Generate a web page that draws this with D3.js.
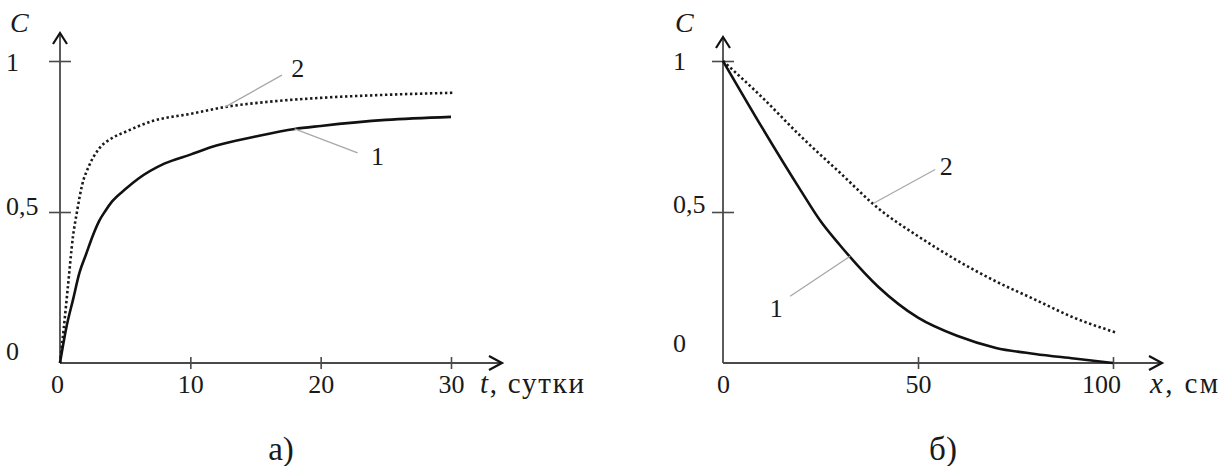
<!DOCTYPE html>
<html>
<head>
<meta charset="utf-8">
<script src="https://cdn.jsdelivr.net/npm/d3@7"></script>
<style>
  html, body { margin: 0; padding: 0; background: #fff; }
  svg { display: block; }
</style>
</head>
<body>
<svg id="chart" width="1229" height="466"></svg>
<script>
// Panel (а): concentration C versus time t, days
const tDays1 = [0, 0.5, 1, 1.5, 2, 2.5, 3, 3.5, 4, 5, 6, 8, 10, 12, 15, 18, 20, 25, 30];
const cTime1 = [0, 0.12, 0.21, 0.30, 0.36, 0.42, 0.47, 0.505, 0.535, 0.575, 0.61, 0.66, 0.69, 0.72, 0.75, 0.775, 0.785, 0.805, 0.815];
const tDays2 = [0, 0.3, 0.6, 1, 1.3, 1.7, 2.2, 3, 4, 5, 7, 10, 13, 16, 20, 25, 30.3];
const cTime2 = [0, 0.12, 0.25, 0.42, 0.50, 0.59, 0.65, 0.71, 0.745, 0.765, 0.80, 0.825, 0.85, 0.865, 0.878, 0.888, 0.895];

// Panel (б): concentration C versus depth x, cm
const xDepth1 = [0, 10, 20, 25, 30, 40, 50, 60, 70, 80, 90, 100];
const cDepth1 = [1, 0.78, 0.57, 0.47, 0.39, 0.25, 0.15, 0.09, 0.05, 0.03, 0.015, 0];
const xDepth2 = [0, 10, 20, 30, 40, 50, 60, 70, 80, 90, 101];
const cDepth2 = [1, 0.88, 0.75, 0.63, 0.51, 0.42, 0.34, 0.27, 0.21, 0.15, 0.10];

// Axis ticks
const timeTicks = [0, 10, 20, 30];
const depthTicks = [0, 50, 100];
const cTicks = [0, 0.5, 1];

// Curve labels: which curve, where the leader touches it (data units)
const timeLabels = [
  { name: "2", curve: 2, at: 12.65 },
  { name: "1", curve: 1, at: 18.0 }
];
const depthLabels = [
  { name: "2", curve: 2, at: 38.5 },
  { name: "1", curve: 1, at: 32.6 }
];

const FONT = "'Liberation Serif', 'Times New Roman', serif";
const INK = "#1a1a1a";
const svg = d3.select("#chart").style("font-family", FONT);
const fmt = d => String(d).replace(".", ",");

function interp(xs, ys, v) {
  const i = Math.max(1, Math.min(xs.length - 1, d3.bisectLeft(xs, v)));
  const x0 = xs[i - 1], x1 = xs[i];
  const k = (v - x0) / (x1 - x0);
  return ys[i - 1] + k * (ys[i] - ys[i - 1]);
}

function label(sel) {
  return sel.style("font-family", FONT).attr("fill", INK);
}

function panel(cfg) {
  const g = svg.append("g");
  const x = d3.scaleLinear().domain(cfg.xDomain).range(cfg.xRange);
  const y = d3.scaleLinear().domain([0, 1]).range([363, 61]);
  const axisColor = "#4a4a4a";

  // x axis with ticks crossing the line
  const gx = g.append("g").attr("transform", `translate(0,${y(0)})`)
    .call(d3.axisBottom(x).tickValues(cfg.xTicks).tickFormat(d => d).tickSize(6));
  gx.attr("font-family", null).attr("font-size", null);
  gx.select(".domain").remove();
  gx.selectAll(".tick line")
    .attr("y1", -6).attr("y2", 6)
    .attr("stroke", axisColor).attr("stroke-width", 1.6)
    .attr("display", d => d === 0 ? "none" : null);
  label(gx.selectAll(".tick text"))
    .attr("y", 30).attr("dy", null)
    .attr("font-size", 26)
    .attr("dx", d => cfg.xLabelShift(d));

  // y axis ticks
  const gy = g.append("g").attr("transform", `translate(${x(0)},0)`)
    .call(d3.axisLeft(y).tickValues(cTicks.filter(d => d > 0)).tickFormat(fmt).tickSize(11));
  gy.select(".domain").remove();
  gy.selectAll(".tick line")
    .attr("x1", -11).attr("x2", 11)
    .attr("stroke", axisColor).attr("stroke-width", 1.6);
  gy.selectAll(".tick text").remove();

  // y tick labels, left-aligned in a column
  label(g.selectAll(".ylab").data(cTicks).join("text"))
    .attr("class", "ylab")
    .attr("x", cfg.yLabelX)
    .attr("y", d => y(d) + cfg.yLabelDy(d))
    .attr("font-size", 26)
    .text(fmt);

  // axis lines with open arrowheads
  const tipX = cfg.arrowX, tipY = cfg.arrowY;
  g.append("line").attr("x1", x(0)).attr("y1", y(0)).attr("x2", tipX).attr("y2", y(0))
    .attr("stroke", axisColor).attr("stroke-width", 1.8);
  g.append("line").attr("x1", x(0)).attr("y1", y(0)).attr("x2", x(0)).attr("y2", tipY)
    .attr("stroke", axisColor).attr("stroke-width", 1.8);
  g.append("path")
    .attr("d", `M${tipX - 13},${y(0) - 7}L${tipX},${y(0)}L${tipX - 13},${y(0) + 7}`)
    .attr("fill", "none").attr("stroke", "#111").attr("stroke-width", 2.2);
  g.append("path")
    .attr("d", `M${x(0) - 7},${tipY + 11}L${x(0)},${tipY}L${x(0) + 7},${tipY + 11}`)
    .attr("fill", "none").attr("stroke", "#111").attr("stroke-width", 2.2);

  // axis titles
  label(g.append("text")).attr("x", cfg.cTitleX).attr("y", 32)
    .attr("font-size", 28).attr("font-style", "italic").text("C");
  const xt = label(g.append("text")).attr("x", cfg.xTitleX).attr("y", 393)
    .attr("font-size", 29)
    .attr("textLength", cfg.xTitleWidth).attr("lengthAdjust", "spacing");
  xt.append("tspan").attr("font-style", "italic").text(cfg.xVar);
  xt.append("tspan").text(cfg.xUnit);

  // curves
  const line = d3.line().x(d => x(d[0])).y(d => y(d[1])).curve(d3.curveMonotoneX);
  const s1 = cfg.x1.map((v, i) => [v, cfg.c1[i]]);
  const s2 = cfg.x2.map((v, i) => [v, cfg.c2[i]]);
  g.append("path").datum(s2).attr("d", line)
    .attr("fill", "none").attr("stroke", "#1a1a1a").attr("stroke-width", 2.6)
    .attr("stroke-dasharray", "2.4 2.6");
  g.append("path").datum(s1).attr("d", line)
    .attr("fill", "none").attr("stroke", "#111").attr("stroke-width", 2.6);

  // leader lines and curve numbers
  cfg.labels.forEach((lab, i) => {
    const xs = lab.curve === 1 ? cfg.x1 : cfg.x2;
    const cs = lab.curve === 1 ? cfg.c1 : cfg.c2;
    const px = x(lab.at), py = y(interp(xs, cs, lab.at));
    const off = cfg.labelOffsets[i];
    g.append("line")
      .attr("x1", px).attr("y1", py)
      .attr("x2", px + off.lx).attr("y2", py + off.ly)
      .attr("stroke", "#a8a8a8").attr("stroke-width", 1.3);
    label(g.append("text"))
      .attr("x", px + off.tx).attr("y", py + off.ty)
      .attr("font-size", 26).attr("text-anchor", "middle")
      .text(lab.name);
  });

  // panel caption
  label(g.append("text")).attr("x", cfg.captionX).attr("y", 460)
    .attr("font-size", 33).attr("text-anchor", "middle").text(cfg.caption);
}

panel({
  xDomain: [0, 30], xRange: [60, 451], xTicks: timeTicks,
  x1: tDays1, c1: cTime1, x2: tDays2, c2: cTime2,
  arrowX: 502, arrowY: 33,
  yLabelX: 6, yLabelDy: d => d === 1 ? 10 : (d === 0.5 ? 3 : -3),
  xLabelShift: d => d === 0 ? -3 : 0,
  cTitleX: 10, xTitleX: 480, xTitleWidth: 104, xVar: "t", xUnit: ", сутки",
  labels: timeLabels,
  labelOffsets: [
    { lx: 57, ly: -32, tx: 73, ty: -30 },
    { lx: 63, ly: 24, tx: 83, ty: 36 }
  ],
  caption: "а)", captionX: 281
});

panel({
  xDomain: [0, 100], xRange: [723, 1113], xTicks: depthTicks,
  x1: xDepth1, c1: cDepth1, x2: xDepth2, c2: cDepth2,
  arrowX: 1162, arrowY: 37,
  yLabelX: 673, yLabelDy: d => d === 1 ? 9 : (d === 0.5 ? 1 : -11),
  xLabelShift: d => d === 100 ? -12 : 0,
  cTitleX: 675, xTitleX: 1150, xTitleWidth: 68, xVar: "x", xUnit: ", см",
  labels: depthLabels,
  labelOffsets: [
    { lx: 62, ly: -34, tx: 73, ty: -29 },
    { lx: -60, ly: 40, tx: -74, ty: 61 }
  ],
  caption: "б)", captionX: 943
});
</script>
</body>
</html>
